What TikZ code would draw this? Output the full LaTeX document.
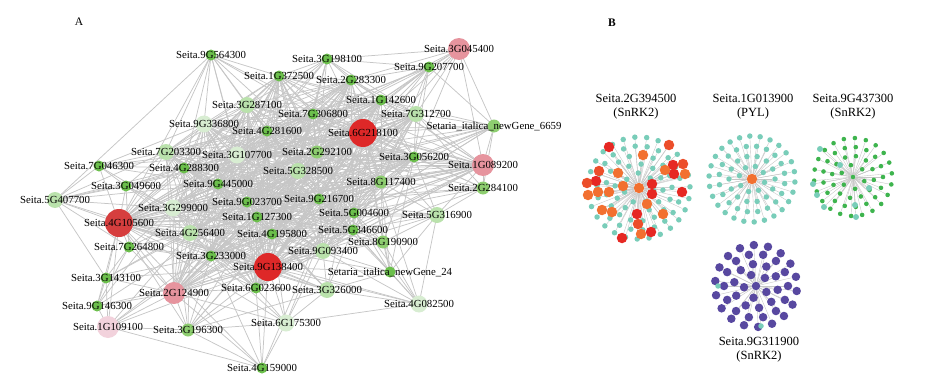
\documentclass[tikz,border=0pt]{standalone}
\usepackage{fontspec}
\setmainfont{Liberation Serif}
\usetikzlibrary{backgrounds}
\definecolor{dkgreen}{RGB}{108,192,76}
\definecolor{mdgreen}{RGB}{142,206,112}
\definecolor{ltgreen}{RGB}{186,226,172}
\definecolor{plgreen}{RGB}{216,237,210}
\definecolor{pinkA}{RGB}{230,148,158}
\definecolor{pinkB}{RGB}{242,210,220}
\definecolor{redA}{RGB}{222,40,40}
\definecolor{redB}{RGB}{214,62,62}
\definecolor{linkgray}{RGB}{198,198,198}
\definecolor{tealdot}{RGB}{121,205,185}
\definecolor{sred}{RGB}{230,40,35}
\definecolor{sredor}{RGB}{236,78,42}
\definecolor{sorange}{RGB}{242,112,48}
\definecolor{sgreen}{RGB}{62,180,78}
\definecolor{spurple}{RGB}{88,72,160}
\newcommand\genelist{9G564300,1G372500,3G287100,9G336800,4G281600,7G203300,3G107700,7G046300,4G288300,3G049600,9G445000,5G407700,3G045400,3G198100,9G207700,2G283300,1G142600,7G312700,7G306800,6G218100,2G292100,3G056200,1G089200,5G328500,8G117400,2G284100,9G216700,3G299000,9G023700,4G105600,1G127300,4G256400,7G264800,3G233000,9G138400,3G143100,2G124900,6G023600,9G146300,1G109100,3G196300,4G159000,5G004600,5G316900,5G346600,4G195800,8G190900,9G093400,3G326000,4G082500,6G175300,6659,24}
\newcommand\corelist{1G372500,3G287100,9G336800,4G281600,7G203300,3G107700,4G288300,9G445000,7G306800,2G292100,5G328500,9G023700,9G216700,1G127300,4G195800,5G004600,5G346600,8G117400,3G056200,1G142600,7G312700,3G299000,4G256400,3G233000,6G023600,9G093400,2G283300}
\begin{document}
\begin{tikzpicture}[x=1pt,y=-1pt,
 gene/.style={circle,inner sep=0pt,minimum size=11pt,fill=dkgreen},
 dg/.style={gene},
 mg/.style={gene,fill=mdgreen,minimum size=13pt},
 lg/.style={gene,fill=ltgreen,minimum size=16pt},
 pg/.style={gene,fill=plgreen,minimum size=17pt},
 pk/.style={gene,fill=pinkA,minimum size=22pt},
 pp/.style={gene,fill=pinkB,minimum size=22pt},
 rd/.style={gene,fill=redA,minimum size=28pt},
 rdb/.style={gene,fill=redB,minimum size=28pt},
 lbl/.style={font=\fontsize{10.8}{11}\selectfont,inner sep=0pt},
 link/.style={draw=linkgray,line width=0.75pt},
 spoke/.style={draw=linkgray,line width=0.4pt},
 smalldot/.style={circle,inner sep=0pt,minimum size=5.5pt,fill=tealdot},
 bigdot/.style={circle,inner sep=0pt,minimum size=10.5pt},
 ttl/.style={font=\fontsize{12.5}{14}\selectfont,align=center,inner sep=0pt},
 panel/.style={font=\fontsize{11.5}{12}\selectfont,inner sep=0pt}]
\useasboundingbox (0,0) rectangle (943,380);
\node[panel] (pa) at (79,22) {A};
\node[panel,font=\fontsize{11.5}{12}\selectfont\bfseries] (pb) at (612,23) {B};
% network A
\foreach \x/\y/\s/\n in {211/55/dg/9G564300,279/76/dg/1G372500,247/105/lg/3G287100,
  204/124/pg/9G336800,267/131/dg/4G281600,166/152/lg/7G203300,237/155/pg/3G107700,
  99/166/dg/7G046300,184/168/dg/4G288300,126/186/dg/3G049600,218/184/dg/9G445000,
  55/200/lg/5G407700,459/49/pk/3G045400,327/59/dg/3G198100,429/67/dg/9G207700,
  351/80/dg/2G283300,381/100/dg/1G142600,416/114/lg/7G312700,313/114/dg/7G306800,
  363/133/rd/6G218100,317/152/mg/2G292100,414/157/dg/3G056200,483/165/pk/1G089200,
  298/171/lg/5G328500,381/182/mg/8G117400,483/188/mg/2G284100,319/199/dg/9G216700,
  173/208/pg/3G299000,247/202/dg/9G023700,119/223/rdb/4G105600,257/217/dg/1G127300,
  190/233/lg/4G256400,129/247/dg/7G264800,211/256/dg/3G233000,268/267/rd/9G138400,
  106/278/dg/3G143100,174/293/pk/2G124900,256/288/dg/6G023600,97/306/dg/9G146300,
  108/327/pp/1G109100,188/330/mg/3G196300,262/368/dg/4G159000,354/213/dg/5G004600,
  437/215/lg/5G316900,353/230/dg/5G346600,272/234/dg/4G195800,383/242/mg/8G190900,
  323/251/lg/9G093400,327/290/lg/3G326000,419/304/pg/4G082500,286/323/pg/6G175300}
  \node[\s,label={[lbl]center:Seita.\n}] (g\n) at (\x,\y) {};
\node[mg,label={[lbl]center:Setaria\_italica\_newGene\_6659}] (g6659) at (494,126) {};
\node[dg,label={[lbl]center:Setaria\_italica\_newGene\_24}] (g24) at (390,272) {};
\begin{scope}[on background layer]
\foreach \a [count=\i] in \corelist
  \foreach \b [count=\j] in \corelist
    {\ifnum\j>\i \draw[link] (g\a.center) -- (g\b.center); \fi}
\foreach \h in {6G218100,9G138400,4G105600}
  \foreach \n in \genelist
    \draw[link] (g\h.center) -- (g\n.center);
\foreach \h in {2G124900,1G089200}
  \foreach \n in \corelist
    \draw[link] (g\h.center) -- (g\n.center);
\foreach \a/\b in {9G564300/1G372500,9G564300/3G287100,9G564300/9G336800,9G564300/7G203300,
  9G564300/3G107700,9G564300/4G281600,9G564300/5G407700,9G564300/4G288300,9G564300/7G306800,
  9G564300/2G292100,3G198100/1G372500,3G198100/2G283300,3G198100/3G045400,3G198100/9G207700,
  3G198100/7G306800,3G198100/4G281600,3G198100/3G287100,3G198100/1G142600,3G198100/2G292100,
  3G198100/7G312700,3G198100/5G328500,3G198100/3G107700,9G207700/2G283300,9G207700/3G045400,
  9G207700/6659,9G207700/7G312700,9G207700/1G142600,9G207700/3G056200,9G207700/8G117400,
  9G207700/2G292100,9G207700/7G306800,9G207700/5G328500,9G207700/4G281600,3G045400/2G283300,
  3G045400/6659,3G045400/7G312700,3G045400/1G142600,3G045400/3G056200,3G045400/1G089200,
  6659/7G312700,6659/3G056200,6659/1G089200,6659/2G284100,6659/8G117400,6659/5G328500,
  6659/2G292100,6659/4G281600,6659/1G142600,6659/9G216700,6659/5G004600,1G089200/2G284100,
  1G089200/5G316900,2G284100/5G316900,2G284100/8G117400,2G284100/3G056200,2G284100/9G216700,
  2G284100/5G004600,2G284100/7G312700,2G284100/2G292100,5G316900/4G082500,5G316900/8G117400,
  5G316900/5G004600,5G316900/9G216700,5G316900/3G056200,5G316900/8G190900,5G316900/5G346600,
  5G316900/24,4G082500/8G190900,4G082500/24,4G082500/3G326000,4G082500/5G346600,
  4G082500/9G093400,4G082500/6G175300,4G082500/5G004600,24/8G190900,24/5G346600,24/3G326000,
  24/9G093400,24/5G004600,24/9G216700,24/8G117400,24/3G056200,8G190900/5G004600,
  8G190900/5G346600,8G190900/9G093400,8G190900/8G117400,8G190900/3G056200,8G190900/9G216700,
  8G190900/1G127300,8G190900/4G195800,3G326000/9G093400,3G326000/6G175300,3G326000/6G023600,
  3G326000/4G195800,3G326000/5G346600,3G326000/3G233000,3G326000/1G127300,3G326000/9G023700,
  3G326000/4G256400,3G326000/3G196300,6G175300/4G159000,6G175300/3G196300,6G175300/6G023600,
  6G175300/4G195800,6G175300/3G233000,6G175300/9G093400,6G175300/2G124900,4G159000/3G196300,
  4G159000/2G124900,4G159000/6G023600,4G159000/1G109100,4G159000/3G233000,3G196300/1G109100,
  3G196300/2G124900,3G196300/3G233000,3G196300/4G256400,3G196300/6G023600,3G196300/4G195800,
  3G196300/1G127300,3G196300/3G299000,1G109100/9G146300,1G109100/2G124900,1G109100/3G143100,
  1G109100/3G233000,1G109100/4G256400,9G146300/3G143100,9G146300/2G124900,9G146300/7G264800,
  9G146300/3G299000,3G143100/7G264800,3G143100/2G124900,3G143100/5G407700,3G143100/3G233000,
  3G143100/4G256400,7G264800/5G407700,7G264800/2G124900,7G264800/3G299000,7G264800/4G256400,
  7G264800/3G049600,7G264800/3G233000,7G046300/5G407700,7G046300/7G203300,7G046300/3G049600,
  7G046300/4G288300,7G046300/9G336800,7G046300/3G107700,7G046300/9G445000,3G049600/5G407700,
  3G049600/4G288300,3G049600/9G445000,3G049600/3G299000,3G049600/7G203300,3G049600/4G256400,
  5G407700/3G299000,5G407700/9G445000,5G407700/4G288300,5G407700/7G203300}
  \draw[link] (g\a.center) -- (g\b.center);
\end{scope}
% panel B, Seita.2G394500
\node[bigdot,fill=sorange] (c1) at (639,188) {};
\foreach \rad/\num/\off in {15/7/10,24/12/5,33/17/20,42/22/3,51/27/12}
  \foreach \k in {1,...,\num}
    \node[smalldot] (t\rad-\k) at ([shift={(\k*360/\num+\off:\rad)}]c1) {};
\foreach \x/\y/\c [count=\k] in {609/147/sred,669/145/sredor,643/155/sorange,673/165/sred,
  683/164/sredor,665/170/sorange,674/174/sred,685/174/sorange,599/171/sredor,618/173/sorange,
  596/181/sred,587/183/sredor,623/186/sorange,652/184/sred,609/192/sorange,598/192/sorange,
  588/195/sorange,652/194/sred,682/192/sred,647/204/sorange,602/210/sorange,612/212/sorange,
  637/214/sred,663/214/sorange,638/224/sredor,641/234/sorange,651/232/sred,622/238/sred}
  \node[bigdot,fill=\c] (q\k) at (\x,\y) {};
\begin{scope}[on background layer]
\foreach \rad/\num in {15/7,24/12,33/17,42/22,51/27}
  \foreach \k in {1,...,\num}
    \draw[spoke] (c1) -- (t\rad-\k);
\foreach \k in {1,...,28}
  \draw[spoke] (c1) -- (q\k);
\end{scope}
\node[ttl] (h1) at (636,107) {Seita.2G394500\\(SnRK2)};
% Seita.1G013900
\node[bigdot,fill=sorange] (c2) at (752,179) {};
\foreach \rad/\num/\off in {13/8/15,23/14/0,33/20/8,43/26/4}
  \foreach \k in {1,...,\num}
    \node[smalldot] (u\rad-\k) at ([shift={(\k*360/\num+\off:\rad)}]c2) {};
\begin{scope}[on background layer]
\foreach \rad/\num in {13/8,23/14,33/20,43/26}
  \foreach \k in {1,...,\num}
    \draw[spoke] (c2) -- (u\rad-\k);
\end{scope}
\node[ttl] (h2) at (753,107) {Seita.1G013900\\(PYL)};
% Seita.9G437300
\node[smalldot,fill=sgreen,minimum size=4.6pt] (c3) at (853,177) {};
\foreach \rad/\num/\off in {12/6/20,21/12/8,30/17/0,39/22/11}
  \foreach \k in {1,...,\num}
    \node[smalldot,fill=sgreen,minimum size=4.6pt] (v\rad-\k) at ([shift={(\k*360/\num+\off:\rad)}]c3) {};
\foreach \x/\y [count=\k] in {813/184,817/195,840/165,824/207,855/205,856/217,869/188,820/149}
  \node[smalldot,minimum size=6pt] (w\k) at (\x,\y) {};
\begin{scope}[on background layer]
\foreach \rad/\num in {12/6,21/12,30/17,39/22}
  \foreach \k in {1,...,\num}
    \draw[spoke] (c3) -- (v\rad-\k);
\foreach \k in {1,...,8}
  \draw[spoke] (c3) -- (w\k);
\end{scope}
\node[ttl] (h3) at (853,107) {Seita.9G437300\\(SnRK2)};
% Seita.9G311900
\node[bigdot,fill=spurple,minimum size=8.5pt] (c4) at (756,286) {};
\foreach \rad/\num/\off in {12/5/30,22/10/10,32/14/0,41/18/7}
  \foreach \k in {1,...,\num}
    \node[bigdot,fill=spurple,minimum size=8.5pt] (p\rad-\k) at ([shift={(\k*360/\num+\off:\rad)}]c4) {};
\node[smalldot] (x1) at (718,286) {};
\node[smalldot] (x2) at (761,326) {};
\begin{scope}[on background layer]
\foreach \rad/\num in {12/5,22/10,32/14,41/18}
  \foreach \k in {1,...,\num}
    \draw[spoke] (c4) -- (p\rad-\k);
\draw[spoke] (c4) -- (x1) (c4) -- (x2);
\end{scope}
\node[ttl] (h4) at (759,350) {Seita.9G311900\\(SnRK2)};
\end{tikzpicture}
\end{document}
